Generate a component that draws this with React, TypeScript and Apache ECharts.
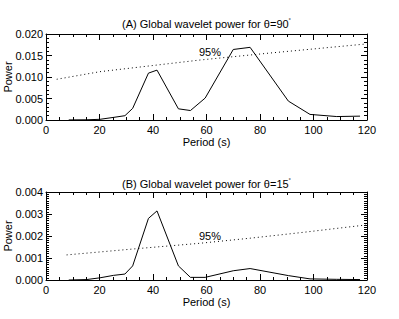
import React, { useEffect, useRef } from "react";
import * as echarts from "echarts";

const periods = [8.5, 15.2, 20.2, 25.2, 29.5, 32.4, 38.3, 41.5, 49.5, 54, 59.5, 70, 76.3, 90.6, 98.7, 108.7, 117.4];
const powerA = [0.00002, 0.00005, 0.00016, 0.0006, 0.001, 0.0027, 0.0109, 0.0116, 0.0026, 0.0022, 0.0051, 0.0164, 0.0169, 0.0044, 0.0013, 0.0008, 0.0009];
const powerB = [0.0, 0.00002, 0.0001, 0.00021, 0.00027, 0.00064, 0.0028, 0.00314, 0.00064, 0.00012, 0.00012, 0.00042, 0.00052, 0.0002, 0.00005, 0.00003, 0.00002];

const sigPeriodsA = [4, 20.2, 57.6, 82.5, 119.5];
const sigPowerA = [0.00947, 0.01124, 0.01395, 0.0155, 0.01767];
const sigPeriodsB = [7.7, 32.6, 57.6, 76.3, 95, 119.5];
const sigPowerB = [0.00114, 0.00141, 0.00167, 0.0019, 0.00215, 0.0025];

const titles = ["(A) Global wavelet power for θ=90", "(B) Global wavelet power for θ=15"];
const sigLabel = "95%";
const sigLabelPosA: [number, number] = [61.3, 0.0159];
const sigLabelPosB: [number, number] = [61.3, 0.002];

const xTicks = { min: 0, max: 120, interval: 20 };
const yTicksA = { min: 0, max: 0.02, interval: 0.005 };
const yTicksB = { min: 0, max: 0.004, interval: 0.001 };

const FONT = "Liberation Sans";

const zip = (xs: number[], ys: number[]) => xs.map((x, i) => [x, ys[i]]);

export default function App() {
  const ref = useRef<HTMLDivElement>(null);
  useEffect(() => {
    if (!ref.current) return;
    const chart = echarts.init(ref.current, null, { renderer: "svg" });
    const black = "#000";
    const axisLine = { show: true, onZero: false, lineStyle: { color: black, width: 1 } };
    const mkX = (grid: number, top: boolean) => ({
      type: "value",
      gridIndex: grid,
      position: top ? "top" : "bottom",
      ...xTicks,
      axisLine,
      axisTick: { show: true, inside: true, length: 6, lineStyle: { color: black } },
      minorTick: { show: true, splitNumber: 4, length: 3, lineStyle: { color: black } },
      splitLine: { show: false },
      minorSplitLine: { show: false },
      axisLabel: { show: !top, color: black, fontSize: 11, fontFamily: FONT, margin: 4 },
      name: top ? "" : "Period (s)",
      nameLocation: "middle",
      nameGap: 16,
      nameMoveOverlap: false,
      nameTextStyle: { color: black, fontSize: 11, fontFamily: FONT },
    });
    const mkY = (grid: number, right: boolean, t: any, minor: number) => ({
      type: "value",
      gridIndex: grid,
      position: right ? "right" : "left",
      ...t,
      axisLine,
      axisTick: { show: true, inside: true, length: 6, lineStyle: { color: black } },
      minorTick: { show: true, splitNumber: minor, length: 3, lineStyle: { color: black } },
      splitLine: { show: false },
      minorSplitLine: { show: false },
      axisLabel: {
        show: !right,
        color: black,
        fontSize: 11,
        fontFamily: FONT,
        margin: 3,
        formatter: (v: number) => v.toFixed(3),
      },
      name: right ? "" : "Power",
      nameLocation: "middle",
      nameGap: 33,
      nameMoveOverlap: false,
      nameTextStyle: { color: black, fontSize: 11, fontFamily: FONT },
    });
    const lineS = (xi: number, yi: number, data: number[][]) => ({
      type: "line",
      xAxisIndex: xi,
      yAxisIndex: yi,
      data,
      showSymbol: false,
      symbol: "none",
      lineStyle: { color: black, width: 1 },
      silent: true,
    });
    const dotS = (xi: number, yi: number, data: number[][], pos: [number, number]) => ({
      type: "line",
      xAxisIndex: xi,
      yAxisIndex: yi,
      data,
      showSymbol: false,
      symbol: "none",
      lineStyle: { color: black, width: 1, type: [1, 3] },
      silent: true,
      markPoint: {
        silent: true,
        symbol: "circle",
        symbolSize: 0,
        itemStyle: { color: "#fff", opacity: 1 },
        label: {
          show: true,
          position: "inside",
          formatter: sigLabel,
          color: black,
          opacity: 1,
          textBorderWidth: 0,
          fontSize: 11,
          fontFamily: FONT,
        },
        data: [{ coord: pos }],
      },
    });
    const titleRich = {
      sup: { fontSize: 6, fontFamily: FONT, color: black, padding: [0, 0, 8, 0] },
    };
    chart.setOption({
      animation: false,
      backgroundColor: "#fff",
      title: [
        {
          text: titles[0] + "{sup|°}",
          left: 206.5,
          top: 17,
          padding: 0,
          textAlign: "center",
          textStyle: { fontSize: 11, fontWeight: "normal", color: black, fontFamily: FONT, rich: titleRich },
        },
        {
          text: titles[1] + "{sup|°}",
          left: 206.5,
          top: 177,
          padding: 0,
          textAlign: "center",
          textStyle: { fontSize: 11, fontWeight: "normal", color: black, fontFamily: FONT, rich: titleRich },
        },
      ],
      grid: [
        { left: 46, top: 34, width: 321, height: 86, containLabel: false, outerBoundsMode: "none" },
        { left: 46, top: 192, width: 321, height: 88, containLabel: false, outerBoundsMode: "none" },
      ],
      xAxis: [mkX(0, false), mkX(0, true), mkX(1, false), mkX(1, true)],
      yAxis: [mkY(0, false, yTicksA, 5), mkY(0, true, yTicksA, 5), mkY(1, false, yTicksB, 10), mkY(1, true, yTicksB, 10)],
      series: [
        lineS(0, 0, zip(periods, powerA)),
        dotS(0, 0, zip(sigPeriodsA, sigPowerA), sigLabelPosA),
        lineS(2, 2, zip(periods, powerB)),
        dotS(2, 2, zip(sigPeriodsB, sigPowerB), sigLabelPosB),
      ],
    });
    return () => chart.dispose();
  }, []);
  return (
    <div
      ref={ref}
      style={{ position: "fixed", left: 0, top: 0, width: 399, height: 319, background: "#fff" }}
    />
  );
}
